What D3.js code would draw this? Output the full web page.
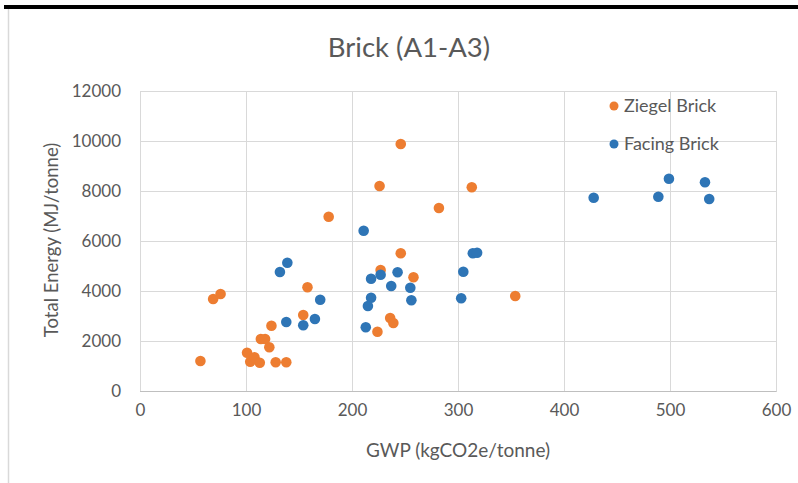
<!DOCTYPE html>
<html>
<head>
<meta charset="utf-8">
<script src="https://cdn.jsdelivr.net/npm/d3@7"></script>
<style>
  html, body { margin: 0; padding: 0; background: #fff; }
  svg { display: block; }
</style>
</head>
<body>
<svg id="chart" width="798" height="483"></svg>
<script>
const title = "Brick (A1-A3)";
const xTitle = "GWP (kgCO2e/tonne)";
const yTitle = "Total Energy (MJ/tonne)";
const seriesNames = ["Ziegel Brick", "Facing Brick"];
const xTicks = [0, 100, 200, 300, 400, 500, 600];
const yTicks = [0, 2000, 4000, 6000, 8000, 10000, 12000];

const ziegelGWP =    [178, 69, 76, 158, 154, 124, 114, 118, 122, 57, 101, 104, 108, 113, 128, 138,
                      246, 226, 313, 282, 246, 227, 258, 354, 236, 239, 224];
const ziegelEnergy = [6970, 3680, 3880, 4150, 3040, 2610, 2080, 2080, 1750, 1200, 1530, 1170, 1350, 1130, 1150, 1150,
                      9880, 8200, 8150, 7320, 5510, 4840, 4550, 3800, 2920, 2720, 2370];

const facingGWP =    [211, 139, 132, 170, 138, 154, 165, 218, 227, 243, 237, 255, 256, 218, 215, 213,
                      305, 303, 314, 318, 428, 489, 499, 533, 537];
const facingEnergy = [6410, 5130, 4760, 3650, 2760, 2630, 2880, 4490, 4650, 4750, 4200, 4130, 3630, 3730, 3400, 2550,
                      4770, 3710, 5510, 5530, 7730, 7770, 8490, 8350, 7680];

const colors = ["#ED7D31", "#2E75B6"];
const textColor = "#595959";
const font = "Lato, 'Open Sans', sans-serif";

const svg = d3.select("#chart");

// frame decorations
svg.append("rect").attr("x", 4).attr("y", 5).attr("width", 794).attr("height", 4).attr("fill", "#000");
svg.append("line").attr("x1", 8.5).attr("x2", 8.5).attr("y1", 9).attr("y2", 483)
  .attr("stroke", "#d9d9d9").attr("stroke-width", 1.5);

const plot = { left: 140, right: 776, top: 91, bottom: 391 };
const x = d3.scaleLinear().domain([0, 600]).range([plot.left, plot.right]);
const y = d3.scaleLinear().domain([0, 12000]).range([plot.bottom, plot.top]);

// gridlines
const gx = svg.append("g").attr("transform", `translate(0,${plot.bottom})`)
  .call(d3.axisBottom(x).tickValues(xTicks).tickSize(-(plot.bottom - plot.top)).tickFormat(d3.format("d")).tickPadding(13));
gx.select(".domain").attr("stroke", "#bfbfbf");
gx.selectAll(".tick line").attr("stroke", "#d9d9d9");
gx.selectAll(".tick text").attr("fill", textColor).style("font-family", font).style("font-size", "17px");

const gy = svg.append("g").attr("transform", `translate(${plot.left},0)`)
  .call(d3.axisLeft(y).tickValues(yTicks).tickSize(-(plot.right - plot.left)).tickFormat(d3.format("d")).tickPadding(19));
gy.select(".domain").remove();
gy.selectAll(".tick line").attr("stroke", d => d === 0 ? "#bfbfbf" : "#d9d9d9");
gy.selectAll(".tick text").attr("fill", textColor).style("font-family", font).style("font-size", "17px");

// titles
svg.append("text").attr("x", 409).attr("y", 57).attr("text-anchor", "middle")
  .attr("fill", textColor).style("font-family", font).style("font-size", "27.5px").text(title);
svg.append("text").attr("x", 458).attr("y", 457).attr("text-anchor", "middle")
  .attr("fill", textColor).style("font-family", font).style("font-size", "19px").text(xTitle);
svg.append("text").attr("transform", "translate(58,240) rotate(-90)").attr("text-anchor", "middle")
  .attr("fill", textColor).style("font-family", font).style("font-size", "18.5px").text(yTitle);

// points
const series = [
  d3.zip(ziegelGWP, ziegelEnergy),
  d3.zip(facingGWP, facingEnergy)
];
series.forEach((pts, i) => {
  svg.append("g").selectAll("circle").data(pts).join("circle")
    .attr("cx", d => x(d[0])).attr("cy", d => y(d[1])).attr("r", 5.3)
    .attr("fill", colors[i]);
});

// legend
const legend = svg.append("g");
seriesNames.forEach((name, i) => {
  const ly = 106 + i * 38;
  legend.append("circle").attr("cx", 614).attr("cy", ly).attr("r", 4.5).attr("fill", colors[i]);
  legend.append("text").attr("x", 624).attr("y", ly).attr("dy", "0.35em")
    .attr("fill", textColor).style("font-family", font).style("font-size", "18px").text(name);
});
</script>
</body>
</html>
